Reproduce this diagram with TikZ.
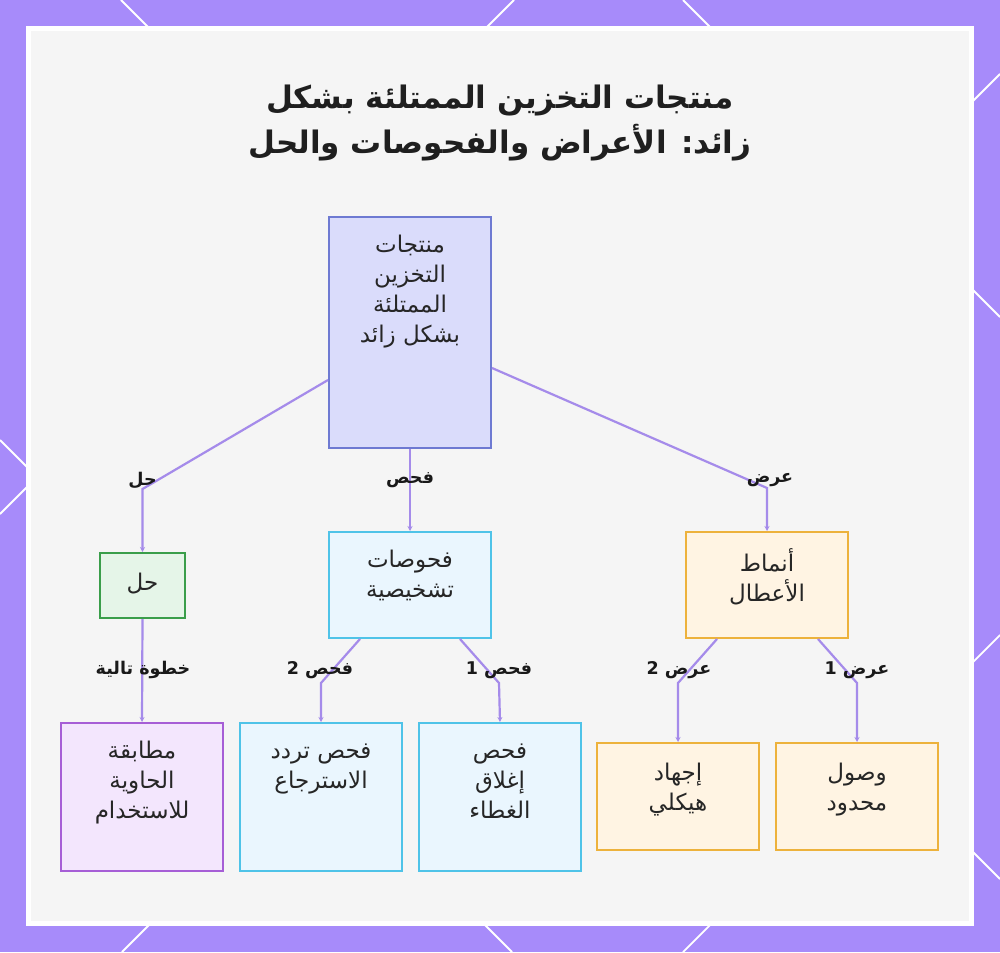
\documentclass[tikz,border=0pt]{standalone}
\usepackage{fontspec}
\newfontfamily\arabicfont[Script=Arabic]{DejaVu Sans}
\TeXXeTstate=1
\usetikzlibrary{arrows.meta,calc}
\newcommand{\AR}[1]{\rule{0pt}{19pt}\beginR #1\endR}
\newcommand{\ARb}[1]{\beginR #1\endR}
\definecolor{bgpurple}{HTML}{A78BFA}
\definecolor{connc}{HTML}{A58BEA}
\definecolor{panelin}{HTML}{F5F5F5}
\definecolor{rootfill}{HTML}{DADCFB}
\definecolor{rootdraw}{HTML}{6E7AD2}
\definecolor{grnfill}{HTML}{E5F5E8}
\definecolor{grndraw}{HTML}{3A9E4A}
\definecolor{cynfill}{HTML}{EAF6FE}
\definecolor{cyndraw}{HTML}{4FC3E8}
\definecolor{orgfill}{HTML}{FFF4E3}
\definecolor{orgdraw}{HTML}{EDB23C}
\definecolor{prpfill}{HTML}{F3E6FD}
\definecolor{prpdraw}{HTML}{A65ED6}
\begin{document}
\begin{tikzpicture}[x=1pt,y=-1pt,
  boxbase/.style={rectangle, line width=2pt, inner sep=0pt},
  rootbox/.style={boxbase, fill=rootfill, draw=rootdraw},
  grnbox/.style={boxbase, fill=grnfill, draw=grndraw},
  cynbox/.style={boxbase, fill=cynfill, draw=cyndraw},
  orgbox/.style={boxbase, fill=orgfill, draw=orgdraw},
  prpbox/.style={boxbase, fill=prpfill, draw=prpdraw},
  boxtxt/.style={anchor=north, inner sep=0pt, align=center, text=black!85,
    font={\arabicfont\fontsize{23}{30}\selectfont}},
  elab/.style={inner sep=0pt, text=black!90,
    font={\arabicfont\bfseries\fontsize{17.5}{20}\selectfont}},
  titletxt/.style={inner sep=0pt, align=center, text=black!88,
    font={\arabicfont\bfseries\fontsize{31}{45}\selectfont}},
  conn/.style={draw=connc, line width=2.2pt, -{Stealth[length=5pt,width=5pt]}},
  deco/.style={draw=white, line width=1.8pt}
]
\useasboundingbox (0,0) rectangle (1000,952);
\fill[bgpurple] (0,0) rectangle (1000,952);
\begin{scope}
\clip (0,0) rectangle (1000,952);
\draw[deco] (121,0) -- (1000,879);
\draw[deco] (514,0) -- (0,514);
\draw[deco] (683,0) -- (1000,317);
\draw[deco] (1000,74) -- (122,952);
\draw[deco] (0,440) -- (512,952);
\draw[deco] (1000,635) -- (683,952);
\end{scope}
\fill[white] (26,26) rectangle (974,926);
\fill[panelin] (31,31) rectangle (969,921);

% title
\node[titletxt] (title) at (500,123) {\ARb{منتجات التخزين الممتلئة بشكل}\\\ARb{زائد: الأعراض والفحوصات والحل}};

% boxes
\node[rootbox, minimum width=162pt, minimum height=231pt] (root) at (410,332.5) {};
\node[grnbox, minimum width=85pt, minimum height=65pt] (sol) at (142.5,585.5) {};
\node[cynbox, minimum width=162pt, minimum height=106pt] (diag) at (410,585) {};
\node[orgbox, minimum width=162pt, minimum height=106pt] (patt) at (767,585) {};
\node[prpbox, minimum width=162pt, minimum height=148pt] (match) at (142,797) {};
\node[cynbox, minimum width=162pt, minimum height=148pt] (retr) at (321,797) {};
\node[cynbox, minimum width=162pt, minimum height=148pt] (lid) at (500,797) {};
\node[orgbox, minimum width=162pt, minimum height=107pt] (struct) at (678,796.5) {};
\node[orgbox, minimum width=162pt, minimum height=107pt] (limit) at (857,796.5) {};

% box texts
\node[boxtxt] (rootT) at ([yshift=-17pt]root.north) {\AR{منتجات}\\\AR{التخزين}\\\AR{الممتلئة}\\\AR{بشكل زائد}};
\node[boxtxt, anchor=center] (solT) at ([yshift=3pt]sol.center) {\AR{حل}};
\node[boxtxt] (diagT) at ([yshift=-17pt]diag.north) {\AR{فحوصات}\\\AR{تشخيصية}};
\node[boxtxt] (pattT) at ([yshift=-17pt]patt.north) {\AR{أنماط}\\\AR{الأعطال}};
\node[boxtxt] (matchT) at ([yshift=-17pt]match.north) {\AR{مطابقة}\\\AR{الحاوية}\\\AR{للاستخدام}};
\node[boxtxt] (retrT) at ([yshift=-17pt]retr.north) {\AR{فحص تردد}\\\AR{الاسترجاع}};
\node[boxtxt] (lidT) at ([yshift=-17pt]lid.north) {\AR{فحص}\\\AR{إغلاق}\\\AR{الغطاء}};
\node[boxtxt] (structT) at ([yshift=-19pt]struct.north) {\AR{إجهاد}\\\AR{هيكلي}};
\node[boxtxt] (limitT) at ([yshift=-19pt]limit.north) {\AR{وصول}\\\AR{محدود}};

% bend points
\coordinate (bSol) at (142.5,489);
\coordinate (bPatt) at (767,488);
\coordinate (bRetr) at (321,683);
\coordinate (bLid) at (499,683);
\coordinate (bStruct) at (678,683);
\coordinate (bLimit) at (857,683);

% connectors
\draw[conn] ([yshift=-47.5pt]root.west) -- (bSol) -- (sol.north);
\draw[conn] (root.south) -- (diag.north);
\draw[conn] ([yshift=-35.5pt]root.east) -- (bPatt) -- (patt.north);
\draw[conn] (sol.south) -- (match.north);
\draw[conn] ([xshift=-50pt]diag.south) -- (bRetr) -- (retr.north);
\draw[conn] ([xshift=50pt]diag.south) -- (bLid) -- (lid.north);
\draw[conn] ([xshift=-50pt]patt.south) -- (bStruct) -- (struct.north);
\draw[conn] ([xshift=51pt]patt.south) -- (bLimit) -- (limit.north);

% edge labels
\node[elab] (lSol) at (142.5,480) {\ARb{حل}};
\node[elab] (lDiag) at (410,480) {\ARb{فحص}};
\node[elab] (lPatt) at (770,480) {\ARb{عرض}};
\node[elab] (lMatch) at (143,670) {\ARb{خطوة تالية}};
\node[elab] (lRetr) at (320,670) {\ARb{فحص 2}};
\node[elab] (lLid) at (499,670) {\ARb{فحص 1}};
\node[elab] (lStruct) at (679,670) {\ARb{عرض 2}};
\node[elab] (lLimit) at (857,670) {\ARb{عرض 1}};
\end{tikzpicture}
\end{document}
